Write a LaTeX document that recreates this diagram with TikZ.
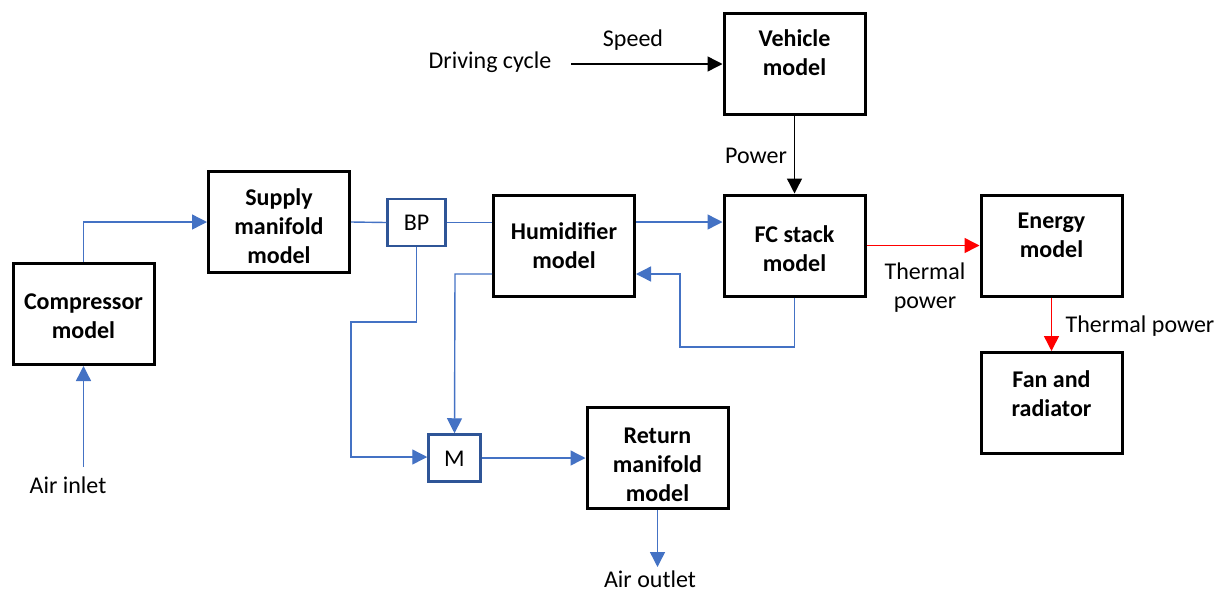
\documentclass[tikz,border=0pt]{standalone}
\usepackage{fontspec}
\setmainfont{Carlito}
\usetikzlibrary{arrows.meta}
\definecolor{bline}{HTML}{4472C4}
\definecolor{bbox}{HTML}{2F5597}
\begin{document}
\begin{tikzpicture}[x=1pt,y=-1pt,
  box/.style={draw=black,line width=3pt,minimum width=141pt,minimum height=101pt,inner sep=0pt},
  sbox/.style={draw=bbox,line width=2.5pt,inner sep=0pt},
  btxt/.style={font=\fontsize{24}{29}\selectfont\bfseries,align=center,inner sep=0pt},
  ltxt/.style={font=\fontsize{24}{29}\selectfont,align=center,inner sep=0pt},
  bflow/.style={draw=bline,line width=1.4pt},
  barr/.style={bflow,-{Triangle[length=15pt,width=15pt]}},
  karr/.style={draw=black,line width=1.4pt,-{Triangle[length=15pt,width=15pt]}},
  rarr/.style={draw=red,line width=1.5pt,-{Triangle[length=15pt,width=15pt]}}]
\useasboundingbox (0,0) rectangle (1230,592);
% boxes
\node[box] (comp) at (83.5,314) {};
\node[btxt] (compT) at (83.5,316.5) {Compressor\\model};
\node[box] (sup) at (279,222) {};
\node[btxt] (supT) at (279,226) {Supply\\manifold\\model};
\node[box] (hum) at (564,245.5) {};
\node[btxt] (humT) at (564,245.5) {Humidifier\\model};
\node[box] (fc) at (794.5,245.5) {};
\node[btxt] (fcT) at (794.5,249) {FC stack\\model};
\node[box] (veh) at (794.5,64) {};
\node[btxt] (vehT) at (794.5,53) {Vehicle\\model};
\node[box] (en) at (1051.5,245.5) {};
\node[btxt] (enT) at (1051.5,235.5) {Energy\\model};
\node[box] (fan) at (1051.5,403) {};
\node[btxt] (fanT) at (1051.5,393.5) {Fan and\\radiator};
\node[box] (ret) at (657.5,458) {};
\node[btxt] (retT) at (657.5,465) {Return\\manifold\\model};
\node[sbox,minimum width=58pt,minimum height=47pt] (bp) at (416.5,222.5) {};
\node[ltxt] (bpT) at (416.5,223) {BP};
\node[sbox,minimum width=52pt,minimum height=47pt] (m) at (454.5,458) {};
\node[ltxt] (mT) at (454.5,459) {M};
% labels
\node[ltxt] (inlet) at (68,485) {Air inlet};
\node[ltxt] (outlet) at (650,579) {Air outlet};
\node[ltxt] (drive) at (490,62) {Driving cycle};
\node[ltxt] (speed) at (633,40) {Speed};
\node[ltxt] (power) at (756,156) {Power};
\node[ltxt] (th1) at (925,288) {Thermal\\power};
\node[ltxt] (th2) at (1140,326) {Thermal power};
\coordinate (inS) at (83.5,467);
\coordinate (drS) at (571,64);
\coordinate (outE) at (657.5,567);
% blue connectors
\draw[barr] (inS) -- (comp.south);
\draw[barr] (comp.north) |- (sup.west);
\draw[bflow] (sup.east) -- (bp.west);
\draw[bflow] (bp.east) -- (hum.west |- bp.east);
\draw[barr] (hum.east |- 0,222) -- (fc.west |- 0,222);
\draw[barr] (fc.south) -- (794.5,347) -- (680,347) -- (680,274) -- (hum.east |- 0,274);
\draw[barr] (hum.west |- 0,274) -- (455,274) -- (m.north);
\draw[barr] (bp.south) -- (416.5,322) -- (351,322) -- (351,457) -- (m.west |- 0,457);
\draw[barr] (m.east) -- (ret.west);
\draw[barr] (ret.south) -- (outE);
% black connectors
\draw[karr] (drS) -- (veh.west);
\draw[karr] (veh.south) -- (fc.north);
% red connectors
\draw[rarr] (fc.east) -- (en.west);
\draw[rarr] (en.south) -- (fan.north);
\end{tikzpicture}
\end{document}
